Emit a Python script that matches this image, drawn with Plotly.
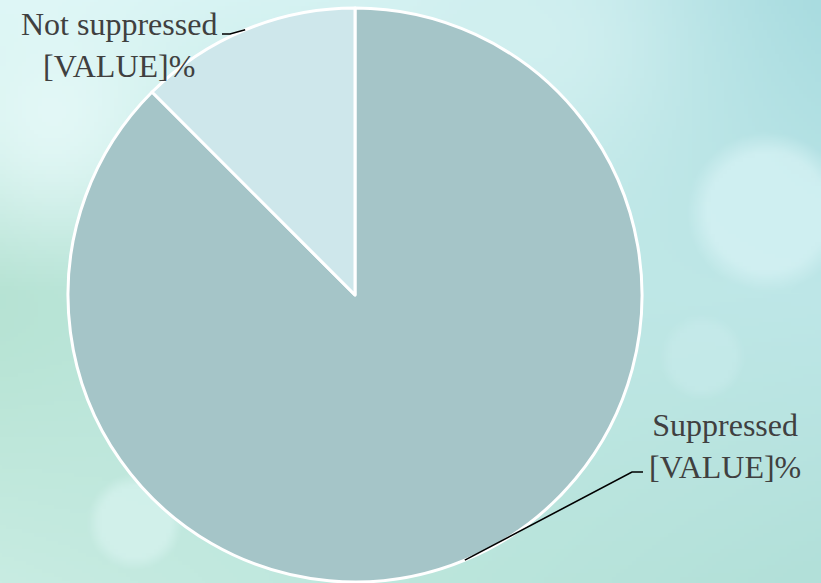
import base64, struct, zlib
import numpy as np
import plotly.graph_objects as go

# ---- data ----
categories = ["Suppressed", "Not suppressed"]
values = [87.5, 12.5]
label_texts = ["Suppressed<br>[VALUE]%", "Not suppressed<br>[VALUE]%"]
slice_colors = ["#A5C5C8", "#CEE7EB"]

W, H = 821, 583

# ---- background image (decorative gradient with soft bokeh) ----
def hexrgb(h):
    h = h.lstrip("#")
    return np.array([int(h[i:i + 2], 16) for i in (0, 2, 4)], dtype=float)

grid = [["#DCF6F6", "#D3F1F1", "#A9DCE0"],
        ["#B4E2D2", "#C0E8E4", "#BEE7E8"],
        ["#C8ECE2", "#BCE6DC", "#B2E0D9"]]
gw, gh = 206, 146
ys, xs = np.mgrid[0:gh, 0:gw]
u = xs / (gw - 1) * 2
v = ys / (gh - 1) * 2
G = np.array([[hexrgb(c) for c in row] for row in grid])
i0 = np.clip(np.floor(v).astype(int), 0, 1)
j0 = np.clip(np.floor(u).astype(int), 0, 1)
fv = (v - i0)[..., None]
fu = (u - j0)[..., None]
img = (G[i0, j0] * (1 - fu) * (1 - fv) + G[i0, j0 + 1] * fu * (1 - fv)
       + G[i0 + 1, j0] * (1 - fu) * fv + G[i0 + 1, j0 + 1] * fu * fv)

def blob(cx, cy, r, color, strength, hard=False):
    global img
    px = xs * W / gw
    py = ys * H / gh
    d = np.sqrt((px - cx) ** 2 + (py - cy) ** 2) / r
    if hard:
        a = np.clip((1.15 - d) / 0.3, 0, 1) * strength
    else:
        a = np.exp(-d ** 2) * strength
    img = img * (1 - a[..., None]) + hexrgb(color) * a[..., None]

blob(50, 120, 110, "#EAFBFB", 0.75)
blob(560, 40, 120, "#DDF5F5", 0.5)
blob(765, 210, 70, "#D5F2F4", 0.8, hard=True)
blob(700, 355, 38, "#C9ECEC", 0.6, hard=True)
blob(133, 520, 42, "#D8F4F0", 0.7, hard=True)

arr = np.clip(img, 0, 255).astype(np.uint8)

def to_png(a):
    h, w, _ = a.shape
    raw = b"".join(b"\x00" + a[r].tobytes() for r in range(h))
    def chunk(t, d):
        c = struct.pack(">I", len(d)) + t + d
        return c + struct.pack(">I", zlib.crc32(t + d) & 0xffffffff)
    return (b"\x89PNG\r\n\x1a\n" + chunk(b"IHDR", struct.pack(">IIBBBBB", w, h, 8, 2, 0, 0, 0))
            + chunk(b"IDAT", zlib.compress(raw, 9)) + chunk(b"IEND", b""))

bg_uri = "data:image/png;base64," + base64.b64encode(to_png(arr)).decode()

# ---- pie geometry (paper domain) ----
cx_px, cy_px, r_px = 355, 295, 287
dom_x = [(cx_px - r_px) / W, (cx_px + r_px) / W]
dom_y = [1 - (cy_px + r_px) / H, 1 - (cy_px - r_px) / H]

fig = go.Figure(go.Pie(
    labels=categories, values=values, sort=False, direction="clockwise", rotation=0,
    marker=dict(colors=slice_colors, line=dict(color="white", width=3)),
    textinfo="none", hoverinfo="label+percent", showlegend=False,
    domain=dict(x=dom_x, y=dom_y),
))

# leader lines from slice mid-angles
total = sum(values)
label_pos = [(724.5, 446), (119, 45)]
elbows = [((632, 472), (643, 472)), ((230, 34), (222, 34))]
shapes = []
annotations = []
cum = 0
for val, txt, (lx, ly), (e1, e2) in zip(values, label_texts, label_pos, elbows):
    mid = (cum + val / 2) / total * 2 * np.pi
    cum += val
    sx = cx_px + r_px * np.sin(mid)
    sy = cy_px - r_px * np.cos(mid)
    pts = [(sx, sy), e1, e2]
    path = "M " + " L ".join(f"{px / W:.5f},{1 - py / H:.5f}" for px, py in pts)
    shapes.append(dict(type="path", xref="paper", yref="paper", path=path,
                       line=dict(color="black", width=1.6)))
    annotations.append(dict(text=txt, xref="paper", yref="paper", x=lx / W, y=1 - ly / H,
                            xanchor="center", yanchor="middle", align="center", showarrow=False,
                            font=dict(family="Liberation Serif, Times New Roman, serif",
                                      size=32, color="#404040")))

fig.update_layout(
    width=W, height=H, margin=dict(l=0, r=0, t=0, b=0),
    paper_bgcolor="#C0E8E4", plot_bgcolor="rgba(0,0,0,0)",
    images=[dict(source=bg_uri, xref="paper", yref="paper", x=0, y=1, sizex=1, sizey=1,
                 sizing="stretch", layer="below", xanchor="left", yanchor="top")],
    shapes=shapes, annotations=annotations,
)
fig.write_html("out.html")
